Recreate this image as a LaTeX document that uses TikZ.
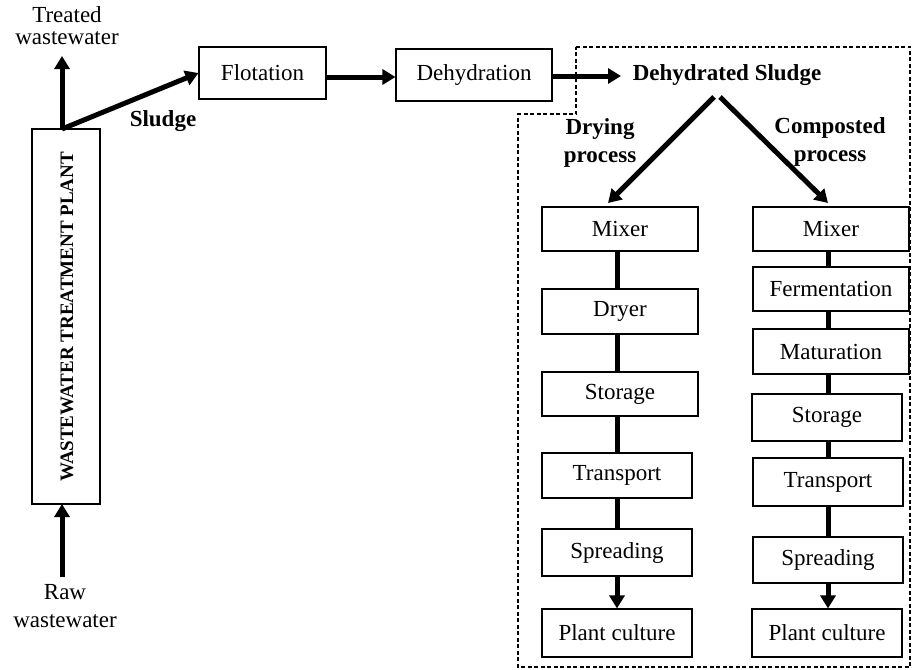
\documentclass[tikz,border=0pt]{standalone}
\usepackage{fontspec}
\setmainfont{Liberation Serif}
\usetikzlibrary{arrows.meta,calc}
\begin{document}
\begin{tikzpicture}[x=1pt,y=-1pt,
  bx/.style={draw,line width=1.1pt,inner sep=0pt,font=\fontsize{23}{27}\selectfont},
  lbl/.style={inner sep=0pt,align=center,font=\fontsize{23}{27}\selectfont},
  blbl/.style={inner sep=0pt,align=center,font=\fontsize{23}{28}\selectfont\bfseries},
  fat/.style={line width=5pt},
  fatarr/.style={line width=5pt,-{Triangle[length=13pt,width=15pt]}},
  dashbox/.style={line width=1.5pt,dash pattern=on 4pt off 2.5pt}
]
\useasboundingbox (0,0) rectangle (912,669);
% left part
\node[bx,minimum width=68pt,minimum height=375pt] (wwtp) at (66,316.5) {};
\node[rotate=90,inner sep=0pt,font=\fontsize{19}{22}\selectfont\bfseries] (wwtpt) at (67,317) {WASTEWATER TREATMENT PLANT};
\node[lbl,font=\fontsize{23}{22}\selectfont] (tw) at (67,26) {Treated\\wastewater};
\node[lbl,font=\fontsize{23}{28}\selectfont] (raw) at (65,606) {Raw\\wastewater};
\coordinate (wtop) at (62,129);
\coordinate (ttip) at (62,56);
\coordinate (wbot) at (62,504);
\coordinate (rbase) at (62,577);
\node[bx,minimum width=127pt,minimum height=52pt] (flot) at (262.5,73) {Flotation};
\node[bx,minimum width=156pt,minimum height=52pt] (dehy) at (474,75) {Dehydration};
\node[blbl,inner sep=0pt] (dsl) at (727,75) {Dehydrated Sludge};
\node[blbl] (sl) at (163,121) {Sludge};
\coordinate (dslend) at (621,76);
\coordinate (fdrow) at (300,77);
\draw[fatarr] (wtop) -- (ttip);
\draw[fatarr] (wtop) -- (flot.west);
\draw[fatarr] (rbase) -- (wbot);
\draw[fatarr] (flot.east |- fdrow) -- (dehy.west |- fdrow);
\draw[fatarr] (dehy.east |- dslend) -- (dslend);
% dashed region
\coordinate (d1) at (576,47);
\coordinate (d2) at (910,47);
\coordinate (d3) at (910,667);
\coordinate (d4) at (518,667);
\coordinate (d5) at (518,114);
\coordinate (d6) at (576,114);
\draw[dashbox] (d1) -- (d2) -- (d3) -- (d4) -- (d5) -- (d6) -- cycle;
% branches
\node[blbl] (dry) at (600,143) {Drying\\process};
\node[blbl] (comp) at (830,142) {Composted\\process};
\coordinate (bl) at (714,97);
\coordinate (br) at (720,97);
\coordinate (tl) at (608,203);
\coordinate (tr) at (828,203);
\draw[fatarr] (bl) -- (tl);
\draw[fatarr] (br) -- (tr);
% left column
\node[bx,minimum width=156pt,minimum height=44pt] (lmix) at (620,229) {Mixer};
\node[bx,minimum width=156pt,minimum height=45pt] (ldry) at (620,311.5) {Dryer};
\node[bx,minimum width=156pt,minimum height=44pt] (lsto) at (620,394) {Storage};
\node[bx,minimum width=150pt,minimum height=45pt] (ltra) at (617,475.5) {Transport};
\node[bx,minimum width=150pt,minimum height=47pt] (lspr) at (617,552.5) {Spreading};
\node[bx,minimum width=150pt,minimum height=48pt] (lpla) at (617,633) {Plant culture};
\draw[fat] (lmix.south -| ltra.north) -- (ldry.north -| ltra.north);
\draw[fat] (ldry.south -| ltra.north) -- (lsto.north -| ltra.north);
\draw[fat] (lsto.south -| ltra.north) -- (ltra.north);
\draw[fat] (ltra.south) -- (lspr.north);
\draw[fatarr] (lspr.south) -- (lpla.north);
% right column
\node[bx,minimum width=156pt,minimum height=44pt] (rmix) at (831,229) {Mixer};
\node[bx,minimum width=156pt,minimum height=44pt] (rfer) at (831,289) {Fermentation};
\node[bx,minimum width=156pt,minimum height=45pt] (rmat) at (831,351.5) {Maturation};
\node[bx,minimum width=150pt,minimum height=47pt] (rsto) at (827,417.5) {Storage};
\node[bx,minimum width=150pt,minimum height=48pt] (rtra) at (828,482) {Transport};
\node[bx,minimum width=150pt,minimum height=46pt] (rspr) at (828,560) {Spreading};
\node[bx,minimum width=150pt,minimum height=48pt] (rpla) at (827,633) {Plant culture};
\draw[fat] (rmix.south -| rtra.north) -- (rfer.north -| rtra.north);
\draw[fat] (rfer.south -| rtra.north) -- (rmat.north -| rtra.north);
\draw[fat] (rmat.south -| rtra.north) -- (rsto.north -| rtra.north);
\draw[fat] (rsto.south -| rtra.north) -- (rtra.north);
\draw[fat] (rtra.south) -- (rspr.north);
\draw[fatarr] (rspr.south) -- (rpla.north -| rspr.south);
\end{tikzpicture}
\end{document}
